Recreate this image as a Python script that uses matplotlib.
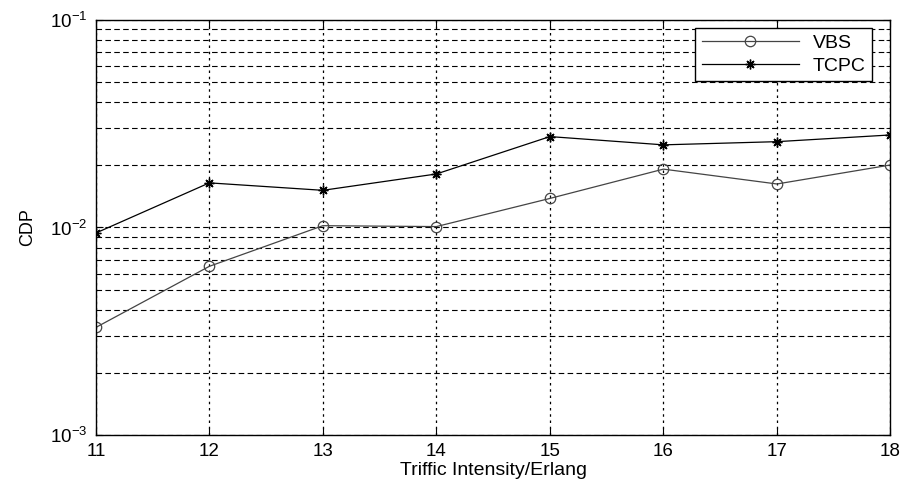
import matplotlib.pyplot as plt
from matplotlib.ticker import LogLocator, NullFormatter

plt.rcParams['font.family'] = ['Liberation Sans', 'DejaVu Sans']

traffic = [11, 12, 13, 14, 15, 16, 17, 18]
vbs = [0.0033, 0.0065, 0.0102, 0.0101, 0.0138, 0.0191, 0.0162, 0.0200]
tcpc = [0.0094, 0.0164, 0.0151, 0.0181, 0.0274, 0.0250, 0.0259, 0.0279]

fig = plt.figure(figsize=(9.04, 4.84), dpi=100)
ax = fig.add_axes([0.106, 0.101, 0.879, 0.858])

ax.semilogy(traffic, vbs, color='#444444', lw=0.9, marker='o', ms=7.5,
            mfc='none', mec='#444444', mew=0.9, label='VBS')
ax.semilogy(traffic, tcpc, color='black', lw=0.9, marker=(8, 2, 0), ms=7,
            mec='black', mew=1.0, label='TCPC')

ax.set_xlim(11, 18)
ax.set_ylim(1e-3, 1e-1)
ax.set_xticks(traffic)
ax.yaxis.set_major_locator(LogLocator(base=10, numticks=5))
ax.yaxis.set_minor_locator(LogLocator(base=10, subs=range(2, 10), numticks=20))
ax.yaxis.set_minor_formatter(NullFormatter())

ax.grid(True, axis='x', which='major', color='black', linestyle=(0, (2, 3)), lw=0.9)
ax.grid(True, axis='y', which='both', color='black', linestyle=(0, (5, 3)), lw=0.8)

ax.tick_params(which='both', direction='in', top=True, right=True, labelsize=13.5)
ax.tick_params(axis='x', pad=6)
ax.tick_params(axis='y', pad=6)
ax.tick_params(which='major', length=5)
ax.tick_params(which='minor', length=3)
for s in ax.spines.values():
    s.set_linewidth(1.0)

ax.set_xlabel('Triffic Intensity/Erlang', fontsize=14, labelpad=1)
ax.set_ylabel('CDP', fontsize=13, labelpad=10)

leg = ax.legend(loc='upper right', bbox_to_anchor=(0.977, 0.981), borderaxespad=0,
                fancybox=False, edgecolor='black', framealpha=1, fontsize=14,
                handlelength=5, borderpad=0.35, labelspacing=0.25, handletextpad=0.7)
leg.get_frame().set_linewidth(1.0)

plt.savefig('out.png')
